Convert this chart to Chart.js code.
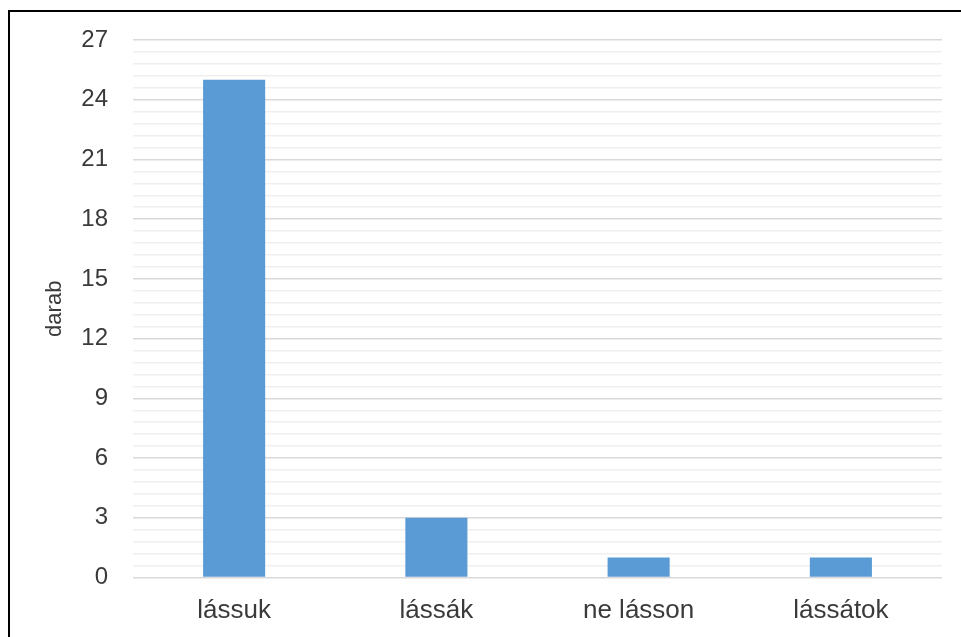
<!DOCTYPE html>
<html>
<head>
<meta charset="utf-8">
<script src="https://cdn.jsdelivr.net/npm/chart.js@4/dist/chart.umd.min.js"></script>
<style>
  html, body { margin: 0; padding: 0; background: #ffffff; }
  #wrap { position: relative; width: 961px; height: 637px; overflow: hidden; }
  #frame {
    position: absolute; left: 8px; top: 10px; width: 1000px; height: 700px;
    border-left: 2px solid #000; border-top: 2px solid #000; box-sizing: border-box;
    pointer-events: none;
  }
</style>
</head>
<body>
<div id="wrap">
  <canvas id="chart" width="961" height="637"></canvas>
  <div id="frame"></div>
</div>
<script>
  // values
  const categories = ['lássuk', 'lássák', 'ne lásson', 'lássátok'];
  const counts = [25, 3, 1, 1];
  const yTitle = 'darab';
  const yMax = 27;
  const majorStep = 3;
  const minorStep = 0.6;

  const textColor = '#3a3a3a';
  const fontFamily = "'Liberation Sans', Arial, sans-serif";

  function isMajor(v) {
    const q = v / majorStep;
    return Math.abs(q - Math.round(q)) < 1e-6;
  }

  const ctx = document.getElementById('chart').getContext('2d');
  new Chart(ctx, {
    type: 'bar',
    data: {
      labels: categories,
      datasets: [{
        data: counts,
        backgroundColor: '#5b9bd5',
        borderWidth: 0,
        barPercentage: 0.307,
        categoryPercentage: 1
      }]
    },
    options: {
      responsive: false,
      animation: false,
      devicePixelRatio: 1,
      layout: { padding: { top: 40, right: 19, bottom: 0, left: 0 } },
      plugins: { legend: { display: false }, tooltip: { enabled: false } },
      scales: {
        x: {
          grid: { display: false },
          border: { display: false },
          ticks: {
            color: textColor,
            padding: 10,
            font: { family: fontFamily, size: 26 }
          },
          afterFit: (scale) => { scale.height = 59.5; }
        },
        y: {
          min: 0,
          max: yMax,
          border: { display: false },
          grid: {
            drawTicks: false,
            lineWidth: 1.5,
            color: (c) => isMajor(c.tick.value) ? '#d9d9d9' : '#efefef'
          },
          ticks: {
            stepSize: minorStep,
            autoSkip: false,
            color: textColor,
            padding: 25,
            font: { family: fontFamily, size: 24 },
            callback: (v) => isMajor(v) ? String(Math.round(v)) : ''
          },
          title: {
            display: true,
            text: yTitle,
            color: textColor,
            padding: { top: 42, bottom: 0 },
            font: { family: fontFamily, size: 22 }
          },
          afterFit: (scale) => { scale.width = 133; }
        }
      }
    }
  });
</script>
</body>
</html>
